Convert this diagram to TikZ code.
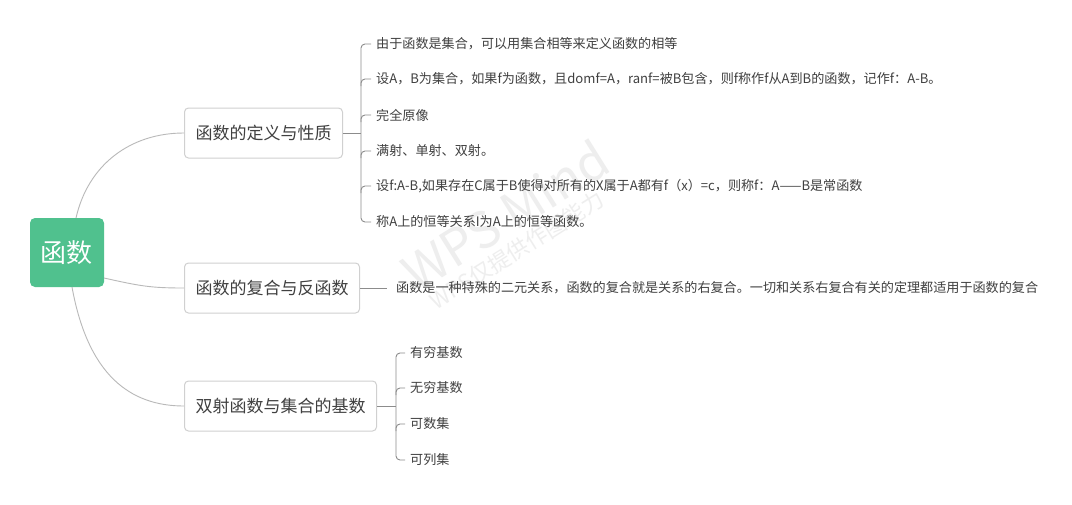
\documentclass[tikz,border=0pt]{standalone}
\usepackage{fontspec}
\newfontfamily\cjk{Noto Sans CJK SC}
\usetikzlibrary{calc}
\definecolor{rootgreen}{RGB}{80,193,142}
\definecolor{boxborder}{RGB}{208,208,208}
\definecolor{txt}{RGB}{64,64,64}
\definecolor{rootline}{RGB}{185,185,185}
\definecolor{leafline}{RGB}{140,140,140}
\definecolor{wm}{RGB}{238,238,238}
\tikzset{
  rootbox/.style={fill=rootgreen, rounded corners=5pt, text=white, font=\cjk\fontsize{26}{28}\selectfont, minimum width=74pt, minimum height=69pt, inner sep=0pt},
  branchbox/.style={draw=boxborder, line width=1pt, fill=white, rounded corners=4pt, text=txt, font=\cjk\fontsize{17}{19}\selectfont, minimum height=50pt, inner xsep=11pt, anchor=west},
  leaf/.style={text=txt, font=\cjk\fontsize{13.1}{15}\selectfont, anchor=west, inner xsep=5pt, inner ysep=2pt},
  rootconn/.style={draw=rootline, line width=0.9pt},
  leafconn/.style={draw=leafline, line width=0.9pt, rounded corners=4pt},
  watermark/.style={text=wm, font=\cjk, rotate=32}
}
\begin{document}
\begin{tikzpicture}[x=1pt,y=-1pt]
\useasboundingbox (0,0) rectangle (1072,504);
\fill[white] (0,0) rectangle (1072,504);
% watermark
\node[watermark, font=\cjk\fontsize{50}{50}\selectfont] (wm1) at (505,215) {WPS Mind};
\node[watermark, font=\cjk\fontsize{22}{22}\selectfont] (wm2) at (517,250) {WPS仅提供作图能力};
% root
\node[rootbox] (root) at (67,252.5) {函数};
% branches
\node[branchbox] (b1) at (184,133) {函数的定义与性质};
\node[branchbox] (b2) at (184,288) {函数的复合与反函数};
\node[branchbox] (b3) at (184,406) {双射函数与集合的基数};
% root connectors
\coordinate (rt) at (76,218);
\coordinate (rr) at (104,278);
\coordinate (rb) at (72,287);
\draw[rootconn] (rt) .. controls (88,165) and (130,133) .. (b1.west);
\draw[rootconn] (rr) .. controls (140,286) and (150,288) .. (b2.west);
\draw[rootconn] (rb) .. controls (88,375) and (130,406) .. (b3.west);
% branch 1 leaves
\coordinate (j1) at (361,133);
\node[leaf] (l11) at (371,44) {由于函数是集合，可以用集合相等来定义函数的相等};
\node[leaf] (l12) at (371,79) {设A，B为集合，如果f为函数，且domf=A，ranf=被B包含，则f称作f从A到B的函数，记作f：A-B。};
\node[leaf] (l13) at (371,115) {完全原像};
\node[leaf] (l14) at (371,151) {满射、单射、双射。};
\node[leaf] (l15) at (371,186) {设f:A-B,如果存在C属于B使得对所有的X属于A都有f（x）=c，则称f：A——B是常函数};
\node[leaf] (l16) at (371,222) {称A上的恒等关系I为A上的恒等函数。};
\draw[leafconn] (b1.east) -- (j1);
\draw[leafconn] (l11.west) -| (j1) |- (l16.west);
\draw[leafconn] ($(j1|-l12.west)+(0,7)$) |- (l12.west);
\draw[leafconn] ($(j1|-l13.west)+(0,7)$) |- (l13.west);
\draw[leafconn] ($(j1|-l14.west)+(0,7)$) |- (l14.west);
\draw[leafconn] ($(j1|-l15.west)+(0,7)$) |- (l15.west);
% branch 2 leaf
\node[leaf, inner xsep=0pt] (l21) at (396,288) {函数是一种特殊的二元关系，函数的复合就是关系的右复合。一切和关系右复合有关的定理都适用于函数的复合};
\draw[leafconn] (b2.east) -- ([xshift=-9pt]l21.west);
% branch 3 leaves
\coordinate (j3) at (396,406);
\node[leaf] (l31) at (405,353) {有穷基数};
\node[leaf] (l32) at (405,388) {无穷基数};
\node[leaf] (l33) at (405,424) {可数集};
\node[leaf] (l34) at (405,460) {可列集};
\draw[leafconn] (b3.east) -- (j3);
\draw[leafconn] (l31.west) -| (j3) |- (l34.west);
\draw[leafconn] ($(j3|-l32.west)+(0,7)$) |- (l32.west);
\draw[leafconn] ($(j3|-l33.west)+(0,7)$) |- (l33.west);
\end{tikzpicture}
\end{document}
